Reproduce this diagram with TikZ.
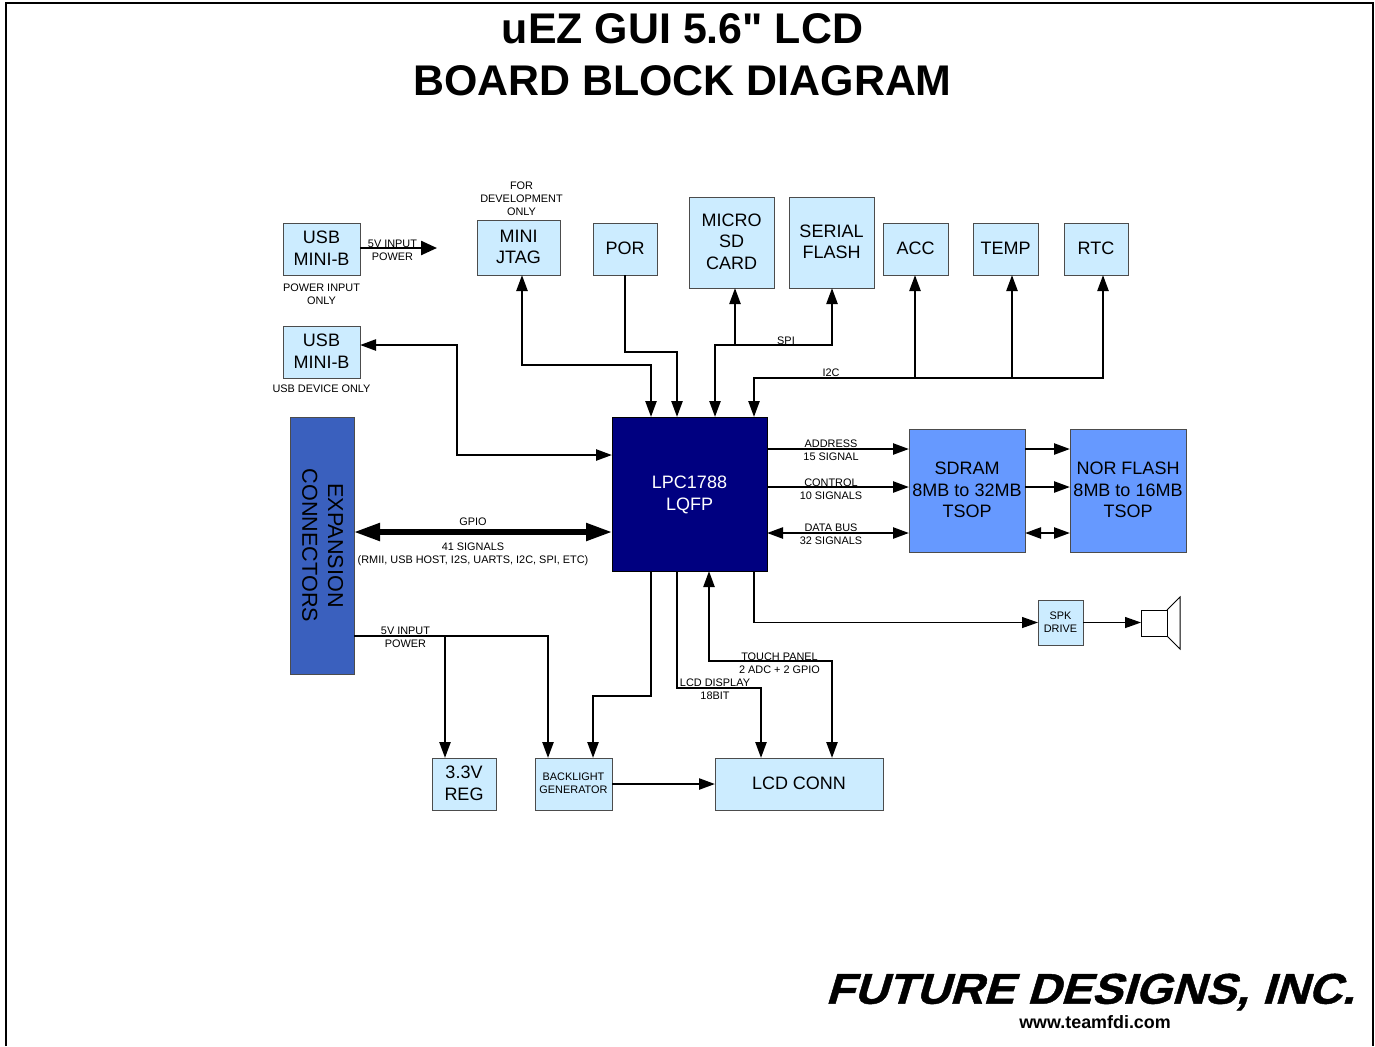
\documentclass[tikz,border=0pt]{standalone}
\usepackage{fontspec}
\setmainfont[Ligatures=TeXOff]{Liberation Sans}
\newfontfamily\logofont[FakeSlant=0.3,FakeStretch=1.08,FakeBold=1]{Liberation Sans Bold}
\usetikzlibrary{arrows.meta}

\tikzset{
  block/.style={draw=black!70, line width=0.5pt, inner sep=0pt, outer sep=0pt, align=center,
                text depth=0.8pt, font=\fontsize{9}{10.6}\selectfont},
  lightblock/.style={block, fill=boxblue},
  memblock/.style={block, fill=memblue},
  tag/.style={inner sep=0pt, yshift=-0.5pt, align=center, font=\fontsize{5.45}{6.5}\selectfont},
  sig/.style={line width=1.2pt, -{Triangle[length=8pt,width=5.5pt]}},
  bothsig/.style={line width=1.2pt, {Triangle[length=8pt,width=5.5pt]}-{Triangle[length=8pt,width=5.5pt]}},
  thinsig/.style={line width=0.6pt, -{Triangle[length=8pt,width=5.5pt]}}
}
\definecolor{boxblue}{HTML}{CCECFF}
\definecolor{memblue}{HTML}{6699FF}
\definecolor{cpublue}{HTML}{000080}
\definecolor{expblue}{HTML}{3A60BE}

\begin{document}
\begin{tikzpicture}[x=0.5pt,y=-0.5pt]

\useasboundingbox (0,0) rectangle (1375,1046);

% Frame
\draw [line width=1pt] (6,1046) -- (6,3) -- (1373,3) -- (1373,1046);

% Title
\node [font=\bfseries\fontsize{21.45}{25.8}\selectfont, align=center] (title) at (682.5,55)
  {uEZ GUI 5.6" LCD\\BOARD BLOCK DIAGRAM};

% Top row
\node [lightblock, minimum width=38.5pt, minimum height=26pt] (usbpower) at (321.5,249) {USB\\MINI-B};
\node [lightblock, minimum width=38.5pt, minimum height=26pt] (usbdevice) at (321.5,352) {USB\\MINI-B};
\node [lightblock, minimum width=41.5pt, minimum height=27.5pt] (jtag) at (518.5,247.5) {MINI\\JTAG};
\node [lightblock, minimum width=32pt, minimum height=26pt] (por) at (625,249) {POR};
\node [lightblock, minimum width=42.5pt, minimum height=45.5pt] (sdcard) at (731.5,242.5) {MICRO\\SD\\CARD};
\node [lightblock, minimum width=42.5pt, minimum height=45.5pt] (flash) at (831.5,242.5) {SERIAL\\FLASH};
\node [lightblock, minimum width=32.5pt, minimum height=26pt] (acc) at (915.5,249) {ACC};
\node [lightblock, minimum width=32.5pt, minimum height=26pt] (temp) at (1005.5,249) {TEMP};
\node [lightblock, minimum width=32pt, minimum height=26pt] (rtc) at (1096,249) {RTC};

% Middle row
\node [block, fill=expblue, rotate=-90, font=\fontsize{10.8}{12.8}\selectfont, minimum width=128.5pt, minimum height=32pt] (expansion) at (322,545.5) {EXPANSION\\CONNECTORS};
\node [block, fill=cpublue, draw=black, text=white, minimum width=77.5pt, minimum height=77pt] (cpu) at (689.5,494) {LPC1788\\LQFP};
\node [memblock, minimum width=58pt, minimum height=61.5pt] (sdram) at (967,490.5) {SDRAM\\8MB to 32MB\\TSOP};
\node [memblock, minimum width=58pt, minimum height=61.5pt] (norflash) at (1128,490.5) {NOR FLASH\\8MB to 16MB\\TSOP};
\node [lightblock, font=\fontsize{5.45}{6.5}\selectfont, minimum width=22.5pt, minimum height=22.5pt] (spkdrive) at (1060.5,622.5) {SPK\\DRIVE};

% Bottom row
\node [lightblock, minimum width=32pt, minimum height=26pt] (reg) at (464,784) {3.3V\\REG};
\node [lightblock, font=\fontsize{5.45}{6.5}\selectfont, minimum width=38.5pt, minimum height=26pt] (backlight) at (573.5,784) {BACKLIGHT\\GENERATOR};
\node [lightblock, minimum width=84pt, minimum height=26pt] (lcdconn) at (799,784) {LCD CONN};

% Speaker
\draw [line width=0.5pt, fill=white] (1141,610) rectangle (1167,636);
\draw [line width=0.5pt] (1167,610) -- (1180,597) -- (1180,649) -- (1167,636);
\coordinate (speaker) at (1141,622.5);
\coordinate (powerend) at (437,248);

% Connectors above the CPU
\draw [line width=1.2pt, -{Triangle[length=8pt,width=7pt]}] (usbpower.east |- powerend) -- (powerend);
\draw [bothsig] (usbdevice.east |- 0,345) -- (457,345) -- (457,455) -- (cpu.west |- 0,455);
\draw [bothsig] (jtag.south -| 522,0) -- (522,365) -- (651,365) -- (cpu.north -| 651,0);
\draw [sig] (por.south) -- (625,352) -- (677,352) -- (cpu.north -| 677,0);
\draw [sig] (735,345) -- (715,345) -- (cpu.north -| 715,0);
\draw [sig] (735,345) -- (sdcard.south -| 735,0);
\draw [sig] (735,345) -- (832,345) -- (flash.south -| 832,0);
\draw [bothsig] (rtc.south -| 1103,0) -- (1103,378) -- (754,378) -- (cpu.north -| 754,0);
\draw [sig] (915,378) -- (acc.south -| 915,0);
\draw [sig] (1012,378) -- (temp.south -| 1012,0);

% Connectors to the memories
\foreach \y in {449,487} {
  \draw [sig] (cpu.east |- 0,\y) -- (sdram.west |- 0,\y);
  \draw [sig] (sdram.east |- 0,\y) -- (norflash.west |- 0,\y);
}
\draw [bothsig] (cpu.east |- 0,533) -- (sdram.west |- 0,533);
\draw [bothsig] (sdram.east |- 0,533) -- (norflash.west |- 0,533);

% GPIO bus
\draw [line width=2.6pt, {Triangle[length=13pt,width=8.5pt]}-{Triangle[length=13pt,width=8.5pt]}]
  (expansion.north |- 0,532) -- (cpu.west |- 0,532);

% Connectors below the CPU
\draw [thinsig] (cpu.south -| 754,0) |- (spkdrive.west);
\draw [thinsig] (spkdrive.east) -- (speaker);
\draw [sig] (expansion.north |- 0,636) -- (548,636) -- (backlight.north -| 548,0);
\draw [sig] (445,636) -- (reg.north -| 445,0);
\draw [sig] (cpu.south -| 651,0) -- (651,696) -- (593,696) -- (backlight.north -| 593,0);
\draw [sig] (cpu.south -| 677,0) -- (677,688) -- (761,688) -- (lcdconn.north -| 761,0);
\draw [bothsig] (lcdconn.north -| 832,0) -- (832,661) -- (709,661) -- (cpu.south -| 709,0);
\draw [sig] (backlight.east) -- (lcdconn.west);

% Small labels
\foreach \x/\y/\txt [count=\i] in {
    392.5/249.5/{5V INPUT\\POWER},
    321.5/293.5/{POWER INPUT\\ONLY},
    321.5/388/{USB DEVICE ONLY},
    521.5/198/{FOR\\DEVELOPMENT\\ONLY},
    786/340/{SPI},
    831/372/{I2C},
    831/449.5/{ADDRESS\\15 SIGNAL},
    831/488.5/{CONTROL\\10 SIGNALS},
    831/533.5/{DATA BUS\\32 SIGNALS},
    473/521/{GPIO},
    473/553/{41 SIGNALS\\(RMII, USB HOST, I2S, UARTS, I2C, SPI, ETC)},
    405.5/636.5/{5V INPUT\\POWER},
    779.5/662.5/{TOUCH PANEL\\2 ADC + 2 GPIO},
    715/688.5/{LCD DISPLAY\\18BIT}}
  \node [tag] (label\i) at (\x,\y) {\txt};

% Logo
\node [inner sep=0pt, font=\logofont\fontsize{21.5}{24}\selectfont] (logo) at (1090,992) {FUTURE DESIGNS, INC.};
\node [inner sep=0pt, font=\bfseries\fontsize{8.95}{10}\selectfont] (website) at (1095,1022) {www.teamfdi.com};

\end{tikzpicture}
\end{document}
